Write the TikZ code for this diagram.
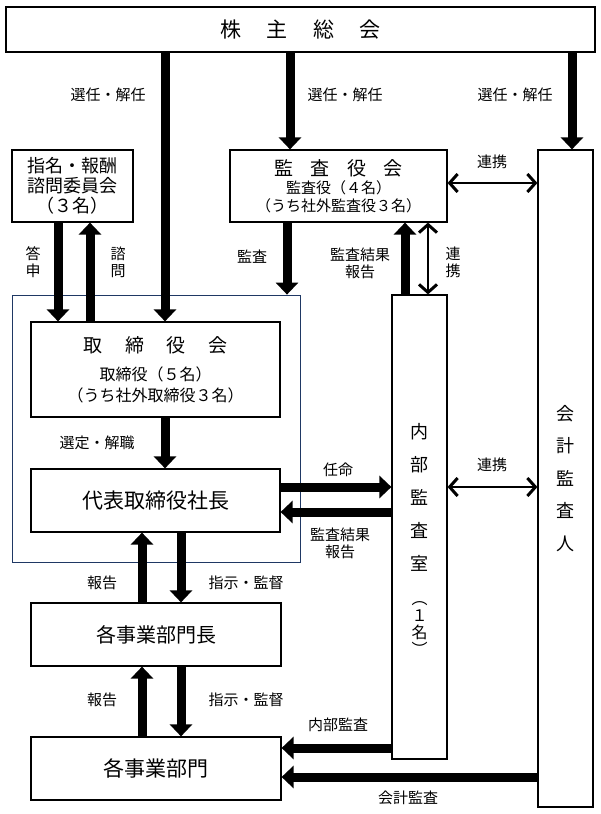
\documentclass[tikz,border=0pt]{standalone}
\usepackage{fontspec}
\setmainfont{Noto Sans CJK JP}
\usetikzlibrary{arrows.meta,positioning}
\definecolor{framecol}{HTML}{1F3864}

\tikzset{
  box/.style={draw, line width=1.2pt, fill=white, align=center, inner sep=0pt},
  big/.style={line width=9pt, -{Triangle[length=12pt,width=22pt]}},
  link/.style={line width=2.8pt, {Straight Barb[length=8pt,width=18pt,line width=3pt]}-{Straight Barb[length=8pt,width=18pt,line width=3pt]}},
  lbl/.style={font=\fontsize{15}{17}\selectfont, align=center, inner sep=0pt},
  vtext/.style={align=center, inner sep=0pt},
}

\begin{document}
\begin{tikzpicture}[x=1pt, y=-1pt]
	\useasboundingbox (0,0) rectangle (600,814);
	% boxes
	\node[draw=framecol, line width=0.8pt, minimum width=288, minimum height=267] (frame) at (156,428.5) {};
	\node[box, minimum width=589, minimum height=45, font=\fontsize{21}{24}\selectfont] (gm) at (300.5,29.5) {株\hspace{1.2em}主\hspace{1.2em}総\hspace{1.2em}会};
	\node[box, minimum width=121, minimum height=72, font=\fontsize{18}{20}\selectfont] (nom) at (72.5,186) {指名・報酬\\諮問委員会\\（３名）};
	\node[box, minimum width=217, minimum height=72, font=\fontsize{15}{18}\selectfont] (kansa) at (338.5,186) {{\fontsize{19}{20}\selectfont 監\hspace{0.9em}査\hspace{0.9em}役\hspace{0.9em}会}\\監査役（４名）\\（うち社外監査役３名）};
	\node[box, minimum width=55, minimum height=657, font=\fontsize{18}{32.5}\selectfont] (auditor) at (565.5,478.5) {会\\計\\監\\査\\人};
	\node[box, minimum width=249, minimum height=95, font=\fontsize{16}{21}\selectfont] (board) at (155.5,369.5) {{\fontsize{19}{20}\selectfont 取\hspace{1.2em}締\hspace{1.2em}役\hspace{1.2em}会}\\[7pt]取締役（５名）\\（うち社外取締役３名）};
	\node[box, minimum width=249, minimum height=63, font=\fontsize{21}{24}\selectfont] (ceo) at (155.5,500.5) {代表取締役社長};
	\node[box, minimum width=55, minimum height=464] (ia) at (419.5,527) {};
	\node[vtext, font=\fontsize{18}{33}\selectfont] (iatext) at (419.5,497.5) {内\\部\\監\\査\\室};
	\node[vtext, font=\fontsize{16}{17}\selectfont] (iacount) at (419.5,629) {︵\\１\\名\\︶};
	\node[box, minimum width=250, minimum height=63, font=\fontsize{20}{24}\selectfont] (heads) at (156,634.5) {各事業部門長};
	\node[box, minimum width=250, minimum height=63, font=\fontsize{21}{24}\selectfont] (depts) at (156,768.5) {各事業部門};
	% connector ends
	\coordinate (sen) at ([xshift=9.5]board.north);
	\coordinate (kan) at ([xshift=-48.5]kansa.north);
	\coordinate (kai) at ([xshift=6.5]auditor.north);
	\coordinate (tou) at ([xshift=-14.5]nom.south);
	\coordinate (shi) at ([xshift=17.5]nom.south);
	\coordinate (kd) at ([xshift=-51.5]kansa.south);
	\coordinate (iar) at ([xshift=-14.5]ia.north);
	\coordinate (ial) at ([xshift=8.5]ia.north);
	\coordinate (kr) at ([yshift=3]kansa.east);
	\coordinate (nin) at ([yshift=13.5]ceo.east);
	\coordinate (kh) at ([yshift=-11.5]ceo.east);
	\coordinate (hu) at ([xshift=-14]heads.north);
	\coordinate (hd) at ([xshift=25]heads.north);
	\coordinate (na) at ([yshift=20.5]depts.east);
	\coordinate (ka) at ([yshift=-8.5]depts.east);
	% arrows
	\draw[big] (gm.south -| sen) -- (sen);
	\draw[big] (gm.south -| kan) -- (kan);
	\draw[big] (gm.south -| kai) -- (kai);
	\draw[big] (tou) -- (tou |- board.north);
	\draw[big] (shi |- board.north) -- (shi);
	\draw[big] (kd) -- (kd |- frame.north);
	\draw[big] (iar) -- (iar |- kansa.south);
	\draw[link] (ial) -- (ial |- kansa.south);
	\draw[link] (kr) -- (kr -| auditor.west);
	\draw[big] (sen |- board.south) -- (sen |- ceo.north);
	\draw[big] (nin) -- (nin -| ia.west);
	\draw[big] (kh -| ia.west) -- (kh);
	\draw[link] (nin -| ia.east) -- (nin -| auditor.west);
	\draw[big] (hu) -- (hu |- ceo.south);
	\draw[big] (hd |- ceo.south) -- (hd);
	\draw[big] (hu |- depts.north) -- (hu |- heads.south);
	\draw[big] (hd |- heads.south) -- (hd |- depts.north);
	\draw[big] (na -| ia.west) -- (na);
	\draw[big] (ka -| auditor.west) -- (ka);
	% labels
	\node[lbl] (l1) at (108,95) {選任・解任};
	\node[lbl] (l2) at (345,95) {選任・解任};
	\node[lbl] (l3) at (515,95) {選任・解任};
	\node[lbl] (l4) at (33,262) {答\\申};
	\node[lbl] (l5) at (118,262) {諮\\問};
	\node[lbl] (l6) at (252,257) {監査};
	\node[lbl] (l7) at (360,263) {監査結果\\報告};
	\node[lbl] (l8) at (453,262) {連\\携};
	\node[lbl] (l9) at (492,162) {連携};
	\node[lbl] (l10) at (97,443) {選定・解職};
	\node[lbl] (l11) at (338,470) {任命};
	\node[lbl] (l12) at (340,543) {監査結果\\報告};
	\node[lbl] (l13) at (492,465) {連携};
	\node[lbl] (l14) at (102,583) {報告};
	\node[lbl] (l15) at (246,583) {指示・監督};
	\node[lbl] (l16) at (102,700) {報告};
	\node[lbl] (l17) at (246,700) {指示・監督};
	\node[lbl] (l18) at (338,725) {内部監査};
	\node[lbl] (l19) at (408,798) {会計監査};
\end{tikzpicture}
\end{document}
